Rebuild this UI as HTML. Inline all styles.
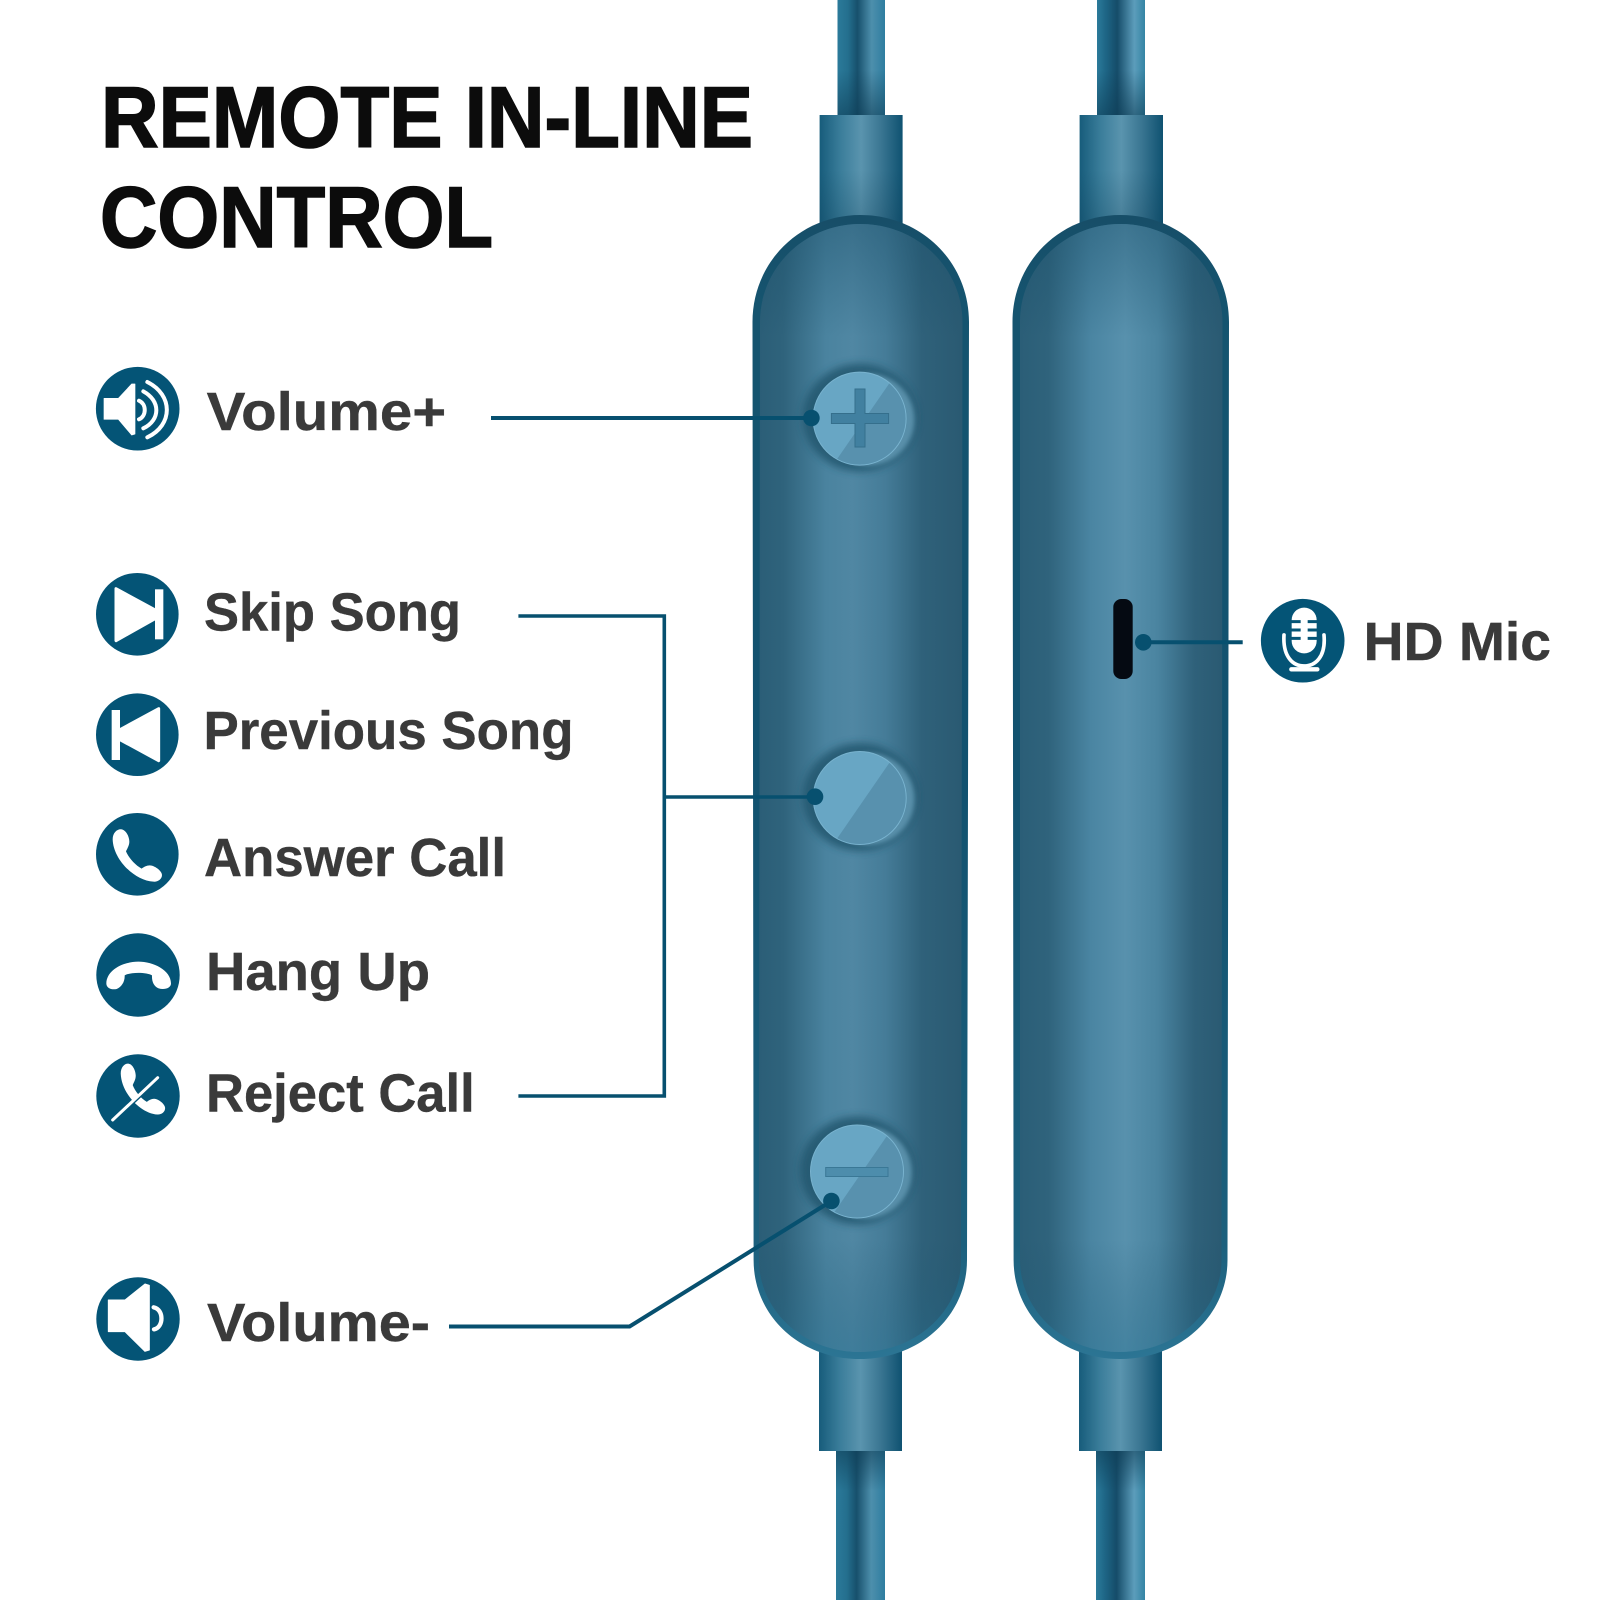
<!DOCTYPE html>
<html>
<head>
<meta charset="utf-8">
<style>
html,body{margin:0;padding:0;background:#fff;width:1600px;height:1600px;overflow:hidden}
svg{display:block}
text{font-family:"Liberation Sans",sans-serif;font-weight:700;fill:#3a3a3a;font-size:54px}
.t{fill:#0c0c0c;font-size:86px;stroke:#0c0c0c;stroke-width:1.6px}
.l{stroke:#3a3a3a;stroke-width:.4px}
</style>
</head>
<body>
<svg width="1600" height="1600" viewBox="0 0 1600 1600" xmlns="http://www.w3.org/2000/svg">
<defs>
<linearGradient id="outer" x1="0" y1="0" x2="0" y2="1">
<stop offset="0" stop-color="#174e68"/><stop offset=".08" stop-color="#15546f"/><stop offset=".5" stop-color="#12526f"/><stop offset=".9" stop-color="#1c607d"/><stop offset="1" stop-color="#2c7594"/>
</linearGradient>
<linearGradient id="innerL" x1="0" y1="0" x2="1" y2="0">
<stop offset="0" stop-color="#2b5e77"/><stop offset=".12" stop-color="#2f637c"/><stop offset=".33" stop-color="#4a839f"/><stop offset=".46" stop-color="#5087a3"/><stop offset=".62" stop-color="#457c98"/><stop offset=".8" stop-color="#2f617a"/><stop offset="1" stop-color="#2a5a72"/>
</linearGradient>
<linearGradient id="innerR" x1="0" y1="0" x2="1" y2="0">
<stop offset="0" stop-color="#2b5e77"/><stop offset=".14" stop-color="#2f637c"/><stop offset=".35" stop-color="#4a85a2"/><stop offset=".52" stop-color="#5891ad"/><stop offset=".68" stop-color="#4a84a0"/><stop offset=".86" stop-color="#2f617a"/><stop offset="1" stop-color="#2a5a72"/>
</linearGradient>
<linearGradient id="topDark" x1="0" y1="0" x2="0" y2="1">
<stop offset="0" stop-color="#174c66" stop-opacity=".4"/><stop offset=".1" stop-color="#174c66" stop-opacity="0"/><stop offset=".9" stop-color="#174c66" stop-opacity="0"/><stop offset="1" stop-color="#1f6a8a" stop-opacity=".35"/>
</linearGradient>
<linearGradient id="conn" x1="0" y1="0" x2="1" y2="0">
<stop offset="0" stop-color="#175c7b"/><stop offset=".25" stop-color="#3a7d9a"/><stop offset=".5" stop-color="#5a94ae"/><stop offset=".74" stop-color="#3a7692"/><stop offset="1" stop-color="#0f5271"/>
</linearGradient>
<linearGradient id="cableL" x1="0" y1="0" x2="1" y2="0">
<stop offset="0" stop-color="#2b7a9a"/><stop offset=".22" stop-color="#246f8e"/><stop offset=".42" stop-color="#17506c"/><stop offset=".72" stop-color="#4d8fac"/><stop offset="1" stop-color="#2e7da0"/>
</linearGradient>
<linearGradient id="cableR" x1="0" y1="0" x2="1" y2="0">
<stop offset="0" stop-color="#2b7a9a"/><stop offset=".18" stop-color="#1e6686"/><stop offset=".42" stop-color="#154c69"/><stop offset=".78" stop-color="#5c9dbb"/><stop offset="1" stop-color="#3484a4"/>
</linearGradient>
<linearGradient id="shT" x1="0" y1="0" x2="0" y2="1">
<stop offset="0" stop-color="#0d3a52" stop-opacity="0"/><stop offset="1" stop-color="#0d3a52" stop-opacity=".55"/>
</linearGradient>
<linearGradient id="shB" x1="0" y1="1" x2="0" y2="0">
<stop offset="0" stop-color="#0d3a52" stop-opacity="0"/><stop offset="1" stop-color="#0d3a52" stop-opacity=".55"/>
</linearGradient>
<filter id="blur" x="-40%" y="-40%" width="180%" height="180%"><feGaussianBlur stdDeviation="4"/></filter>
<filter id="blur2" x="-40%" y="-40%" width="180%" height="180%"><feGaussianBlur stdDeviation="2.500"/></filter>
<clipPath id="bc"><circle cx="0" cy="0" r="46"/></clipPath>
<g id="btn">
<ellipse cx="0" cy="-1" rx="57" ry="54" fill="#24566e" opacity=".85" filter="url(#blur)"/>
<circle cx="9" cy="1" r="46" fill="#6299b4" opacity=".85" filter="url(#blur2)"/>
<circle cx="0" cy="0" r="47" fill="#79b3cf"/>
<g clip-path="url(#bc)">
<rect x="-47" y="-47" width="94" height="94" fill="#68a6c4"/>
<polygon points="33,-40 60,-40 60,60 -36,60" fill="#5891ae"/>
</g>
</g>
</defs>

<!-- cables -->
<rect x="837.500" y="0" width="47.500" height="116" fill="url(#cableL)"/>
<rect x="837.500" y="70" width="47.500" height="46" fill="url(#shT)"/>
<rect x="1097" y="0" width="48" height="116" fill="url(#cableR)"/>
<rect x="1097" y="70" width="48" height="46" fill="url(#shT)"/>
<rect x="836" y="1451" width="49" height="149" fill="url(#cableL)"/>
<rect x="836" y="1451" width="49" height="40" fill="url(#shB)"/>
<rect x="1096" y="1451" width="49" height="149" fill="url(#cableR)"/>
<rect x="1096" y="1451" width="49" height="40" fill="url(#shB)"/>

<!-- connectors -->
<rect x="819.600" y="115" width="83" height="120" fill="url(#conn)"/>
<rect x="819.600" y="170" width="83" height="60" fill="url(#shT)" opacity=".5"/>
<rect x="1079.600" y="115" width="83.400" height="120" fill="url(#conn)"/>
<rect x="1079.600" y="170" width="83.400" height="60" fill="url(#shT)" opacity=".5"/>
<rect x="819" y="1340" width="83" height="111" fill="url(#conn)"/>
<rect x="1079" y="1340" width="83" height="111" fill="url(#conn)"/>

<!-- pills -->
<path d="M752.500 322C752.500 262 800 215 860.500 215C921 215 969 262 969 322L967 1260C967 1316 920 1359 860 1359C800 1359 753.600 1316 753.600 1260Z" fill="url(#outer)"/>
<path d="M760 322C760 268 804 224 860.500 224C917 224 962.500 268 962.500 322L961 1260C961 1310 917 1352 860 1352C803 1352 759 1310 759 1260Z" fill="url(#innerL)"/>
<path d="M760 322C760 268 804 224 860.500 224C917 224 962.500 268 962.500 322L961 1260C961 1310 917 1352 860 1352C803 1352 759 1310 759 1260Z" fill="url(#topDark)"/>
<path d="M1012.500 322C1012.500 262 1060 215 1120.500 215C1181 215 1229 262 1229 322L1227.500 1260C1227.500 1316 1180 1359 1120 1359C1060 1359 1013.600 1316 1013.600 1260Z" fill="url(#outer)"/>
<path d="M1020 322C1020 268 1064 224 1120.500 224C1177 224 1222.500 268 1222.500 322L1221.500 1260C1221.500 1310 1177 1352 1120 1352C1063 1352 1020 1310 1020 1260Z" fill="url(#innerR)"/>
<path d="M1020 322C1020 268 1064 224 1120.500 224C1177 224 1222.500 268 1222.500 322L1221.500 1260C1221.500 1310 1177 1352 1120 1352C1063 1352 1020 1310 1020 1260Z" fill="url(#topDark)"/>

<!-- buttons -->
<use href="#btn" x="859.600" y="418.600"/>
<use href="#btn" x="859.700" y="798"/>
<use href="#btn" x="857" y="1171.500"/>
<path d="M855 389h10v24.500h23.600v10h-23.600v23.500h-10v-23.500h-23.600v-10h23.600z" fill="#4180a0" stroke="#356f8c" stroke-width="1"/>
<rect x="825.700" y="1167.500" width="62.300" height="9" fill="#4d8dac" stroke="#3a7896" stroke-width="1"/>

<!-- mic slot -->
<rect x="1113.300" y="599" width="19.400" height="80" rx="8" fill="#050a12"/>

<!-- connector lines -->
<g stroke="#07506f" stroke-width="4" fill="none">
<path d="M491 418H811"/>
<path d="M518.400 616H664.300V1096H518.400" stroke-width="3.600"/>
<path d="M664.300 797H815" stroke-width="3.600"/>
<path d="M449 1326.500H629.600L831.400 1201"/>
<path d="M1143.300 642.300H1242.700"/>
</g>
<g fill="#07506f">
<circle cx="811.400" cy="418" r="8.300"/>
<circle cx="815" cy="796.700" r="8.300"/>
<circle cx="831.400" cy="1201" r="8.300"/>
<circle cx="1143.300" cy="642.300" r="8.300"/>
</g>

<!-- title -->
<text class="t" x="101" y="147" textLength="652" lengthAdjust="spacingAndGlyphs">REMOTE IN-LINE</text>
<text class="t" x="100" y="247" textLength="393" lengthAdjust="spacingAndGlyphs">CONTROL</text>

<!-- labels -->
<text class="l" x="206.700" y="430" textLength="239.500" lengthAdjust="spacingAndGlyphs">Volume+</text>
<text class="l" x="204" y="630.700" textLength="257" lengthAdjust="spacingAndGlyphs">Skip Song</text>
<text class="l" x="203.500" y="749" textLength="370" lengthAdjust="spacingAndGlyphs">Previous Song</text>
<text class="l" x="204" y="876" textLength="302" lengthAdjust="spacingAndGlyphs">Answer Call</text>
<text class="l" x="206" y="990" textLength="224" lengthAdjust="spacingAndGlyphs">Hang Up</text>
<text class="l" x="206" y="1111.700" textLength="268.700" lengthAdjust="spacingAndGlyphs">Reject Call</text>
<text class="l" x="207" y="1341" textLength="223" lengthAdjust="spacingAndGlyphs">Volume-</text>
<text class="l" x="1363.700" y="660" textLength="187.300" lengthAdjust="spacingAndGlyphs">HD Mic</text>

<!-- icon circles -->
<g fill="#045476">
<circle cx="137.700" cy="408.700" r="41.800"/>
<circle cx="137.300" cy="614.300" r="41.300"/>
<circle cx="137.300" cy="734.700" r="41.300"/>
<circle cx="137.300" cy="854.300" r="41.300"/>
<circle cx="138" cy="975" r="41.700"/>
<circle cx="138" cy="1096" r="41.700"/>
<circle cx="138" cy="1319" r="41.700"/>
<circle cx="1302.700" cy="640.700" r="41.800"/>
</g>

<!-- volume+ -->
<g transform="translate(90 360) scale(.33333)" fill="#fff" stroke="#fff">
<path d="M42 115H85L125 72L135 72V222L125 225L85 178H42Z" stroke-width="2" stroke-linejoin="round"/>
<g fill="none" stroke-width="12" stroke-linecap="round">
<path d="M147 122C170 132 170 168 147 178"/>
<path d="M160 94C212 122 212 180 160 205"/>
<path d="M172 66C250 105 250 195 172 232"/>
</g>
</g>
<!-- skip -->
<g transform="translate(80 350) scale(.33333)" fill="#fff">
<path d="M108 716L222 778V808L108 872Z" stroke="#fff" stroke-width="9" stroke-linejoin="round"/>
<rect x="225" y="718" width="25" height="150"/>
</g>
<!-- previous -->
<g transform="translate(80 350) scale(.33333)" fill="#fff">
<path d="M236 1076L122 1138V1170L236 1232Z" stroke="#fff" stroke-width="9" stroke-linejoin="round"/>
<rect x="95" y="1080" width="25" height="150"/>
</g>
<!-- answer -->
<g transform="translate(90 810) scale(.33333)">
<path d="M68 88C68 68 82 56 95 58C108 60 118 80 118 95C118 108 110 118 108 124C115 142 135 165 155 176C162 170 175 164 185 167C200 171 216 185 216 195C216 208 203 216 190 215C135 212 70 150 68 88Z" fill="#fff"/>
</g>
<!-- hang up -->
<g transform="translate(80 790) scale(.33333)">
<path d="M79 580C80 540 130 515 175 515C220 515 272 540 273 580C273 595 252 600 236 595C222 590 215 575 216 556C200 546 150 546 134 556C135 575 125 590 110 597C95 600 79 595 79 580Z" fill="#fff"/>
</g>
<!-- reject -->
<g transform="translate(90 1050) scale(.33333)">
<path d="M68 88C68 68 82 56 95 58C108 60 118 80 118 95C118 108 110 118 108 124C115 142 135 165 155 176C162 170 175 164 185 167C200 171 216 185 216 195C216 208 203 216 190 215C135 212 70 150 68 88Z" fill="#fff" transform="translate(31 -15) scale(.9 .97)"/>
<path d="M112 174L200 92" stroke="#045476" stroke-width="9"/>
<path d="M68 210L203 83" stroke="#fff" stroke-width="9" stroke-linecap="round"/>
</g>
<!-- volume- -->
<g transform="translate(80 1250) scale(.33333)" fill="#fff">
<path d="M85 150H135L195 102L208 106V300L195 304L135 245H85Z" stroke="#fff" stroke-width="3" stroke-linejoin="round"/>
<path d="M221 172C252 178 252 232 222 238" fill="none" stroke="#fff" stroke-width="13" stroke-linecap="round"/>
</g>
<!-- mic -->
<g transform="translate(1100 570) scale(.33333)">
<rect x="575" y="113" width="75" height="137" rx="37" fill="#fff"/>
<g stroke="#045476" stroke-width="9">
<path d="M572 155H602M623 155H653M572 180H602M623 180H653M572 205H602M623 205H653"/>
</g>
<path d="M552 195C548 262 580 288 612 288C645 288 678 262 672 195" fill="none" stroke="#fff" stroke-width="11" stroke-linecap="round"/>
<path d="M612 288V298" stroke="#fff" stroke-width="12"/>
<path d="M574 298H652" stroke="#fff" stroke-width="13" stroke-linecap="round"/>
</g>
</svg>
</body>
</html>
